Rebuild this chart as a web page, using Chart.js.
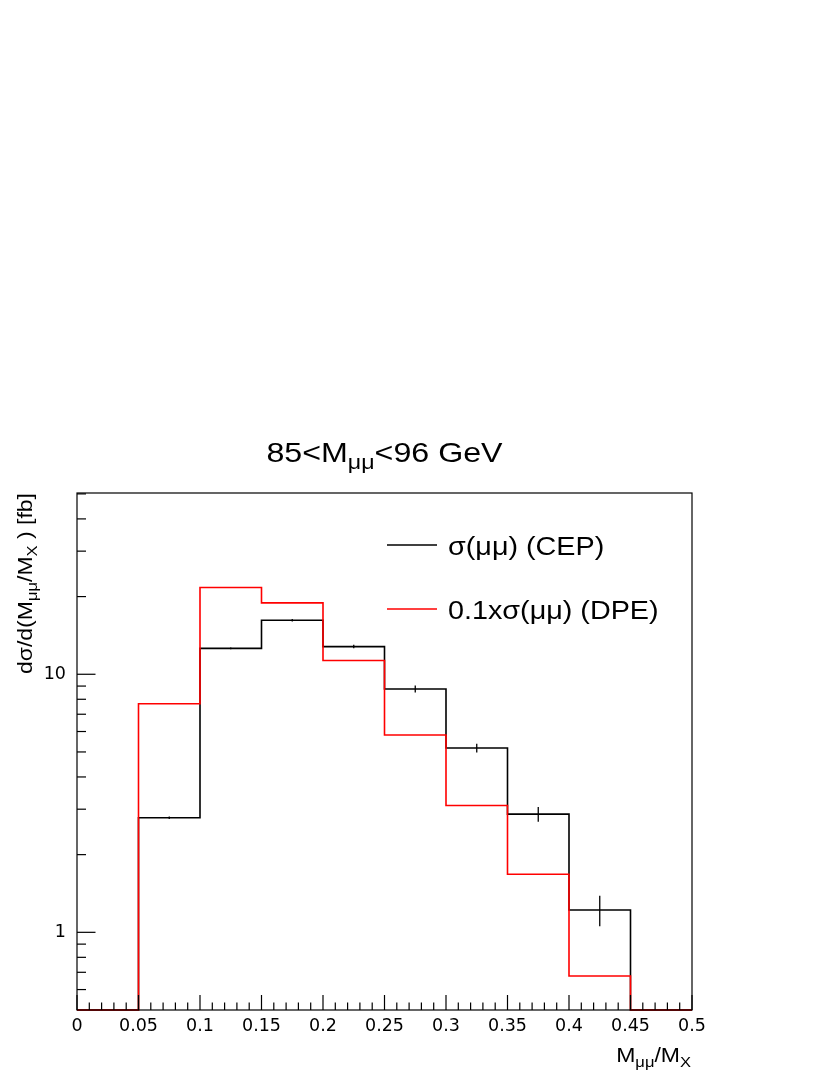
<!DOCTYPE html>
<html>
<head>
<meta charset="utf-8">
<script src="https://cdn.jsdelivr.net/npm/chart.js@4.4.1/dist/chart.umd.min.js"></script>
<style>
  html, body { margin: 0; padding: 0; background: #fff; }
  canvas { display: block; }
</style>
</head>
<body>
<canvas id="histChart" width="830" height="1075"></canvas>
<script>
// bins of M_mumu / M_X
const binEdges = [0, 0.05, 0.1, 0.15, 0.2, 0.25, 0.3, 0.35, 0.4, 0.45, 0.5];
const cepValues = [0, 2.78, 12.6, 16.2, 12.8, 8.77, 5.18, 2.87, 1.22, 0];
const cepErrors = [0, 0.03, 0.1, 0.17, 0.2, 0.28, 0.2, 0.19, 0.165, 0];
const dpeValues = [0, 7.69, 21.7, 18.9, 11.3, 5.82, 3.10, 1.68, 0.677, 0];

const xTickLabels = ['0', '0.05', '0.1', '0.15', '0.2', '0.25', '0.3', '0.35', '0.4', '0.45', '0.5'];
const yMajorTicks = [1, 10];
const yMinorTicks = [0.6, 0.7, 0.8, 0.9, 2, 3, 4, 5, 6, 7, 8, 9, 20, 30, 40, 50];
const yMin = 0.5;
const yMax = 50.4;

const FONT = '"Liberation Sans", Arial, Helvetica, sans-serif';
const TICK_FONT = '"DejaVu Sans", sans-serif';
const STRETCH = 1.15; // reference glyphs are a bit wider than Liberation Sans

// histogram outline: one point per left bin edge + closing right edge
function stepPoints(vals) {
  const pts = vals.map((v, i) => ({ x: binEdges[i], y: Math.max(v, yMin) }));
  pts.push({ x: binEdges[binEdges.length - 1], y: Math.max(vals[vals.length - 1], yMin) });
  return pts;
}

// text with subscripts, parts = [[text, isSub], ...]
function drawRich(ctx, parts, x, y, size, align) {
  const sub = size * 0.72;
  let w = 0;
  parts.forEach(([t, s]) => {
    ctx.font = (s ? sub : size) + 'px ' + FONT;
    w += ctx.measureText(t).width;
  });
  w *= STRETCH;
  const x0 = align === 'right' ? x - w : align === 'center' ? x - w / 2 : x;
  ctx.save();
  ctx.translate(x0, y);
  ctx.scale(STRETCH, 1);
  ctx.textAlign = 'left';
  ctx.textBaseline = 'alphabetic';
  let cx = 0;
  parts.forEach(([t, s]) => {
    ctx.font = (s ? sub : size) + 'px ' + FONT;
    ctx.fillText(t, cx, s ? size * 0.24 : 0);
    cx += ctx.measureText(t).width;
  });
  ctx.restore();
}

const rootStyle = {
  id: 'rootStyle',
  afterDatasetsDraw(chart) {
    const { ctx, chartArea: a, scales: { x, y } } = chart;
    ctx.save();
    ctx.strokeStyle = '#000';

    // error bars on CEP
    ctx.lineWidth = 1.3;
    cepValues.forEach((v, i) => {
      if (v <= 0) return;
      const px = x.getPixelForValue((binEdges[i] + binEdges[i + 1]) / 2);
      ctx.beginPath();
      ctx.moveTo(px, y.getPixelForValue(v - cepErrors[i]));
      ctx.lineTo(px, y.getPixelForValue(v + cepErrors[i]));
      ctx.stroke();
    });

    // frame
    ctx.lineWidth = 1.2;
    ctx.strokeRect(a.left, a.top, a.right - a.left, a.bottom - a.top);

    // x ticks (inside, from bottom)
    const xMajLen = 15, xMinLen = 7.5;
    for (let k = 0; k <= 50; k++) {
      const px = x.getPixelForValue(k / 100);
      const len = k % 5 === 0 ? xMajLen : xMinLen;
      ctx.beginPath();
      ctx.moveTo(px, a.bottom);
      ctx.lineTo(px, a.bottom - len);
      ctx.stroke();
    }

    // y ticks (inside, from left)
    yMajorTicks.forEach(v => {
      const py = y.getPixelForValue(v);
      ctx.beginPath();
      ctx.moveTo(a.left, py);
      ctx.lineTo(a.left + 18.5, py);
      ctx.stroke();
    });
    yMinorTicks.forEach(v => {
      const py = y.getPixelForValue(v);
      ctx.beginPath();
      ctx.moveTo(a.left, py);
      ctx.lineTo(a.left + 9, py);
      ctx.stroke();
    });
    ctx.restore();
  },
  afterDraw(chart) {
    const { ctx, chartArea: a } = chart;
    ctx.save();
    ctx.fillStyle = '#000';

    // title
    drawRich(ctx, [['85<M', 0], ['\u03bc\u03bc', 1], ['<96 GeV', 0]],
      (a.left + a.right) / 2, 462, 28, 'center');

    // x title
    drawRich(ctx, [['M', 0], ['\u03bc\u03bc', 1], ['/M', 0], ['X', 1]],
      a.right - 1, 1062, 20, 'right');

    // y title
    ctx.save();
    ctx.translate(32, a.top);
    ctx.rotate(-Math.PI / 2);
    drawRich(ctx, [['d\u03c3/d(M', 0], ['\u03bc\u03bc', 1], ['/M', 0], ['X', 1], [' ) [fb]', 0]],
      0, 0, 20, 'right');
    ctx.restore();

    // legend
    const entries = [
      { color: '#000', y: 545, parts: [['\u03c3(\u03bc\u03bc) (CEP)', 0]] },
      { color: '#ff0000', y: 609, parts: [['0.1x\u03c3(\u03bc\u03bc) (DPE)', 0]] }
    ];
    entries.forEach(e => {
      ctx.strokeStyle = e.color;
      ctx.lineWidth = 1.5;
      ctx.beginPath();
      ctx.moveTo(387, e.y);
      ctx.lineTo(437, e.y);
      ctx.stroke();
      drawRich(ctx, e.parts, 448, e.y + 9.5, 25, 'left');
    });
    ctx.restore();
  }
};

const ctx = document.getElementById('histChart').getContext('2d');
const myChart = new Chart(ctx, {
  type: 'line',
  data: {
    datasets: [
      {
        label: '0.1xσ(μμ) (DPE)',
        data: stepPoints(dpeValues),
        borderColor: '#ff0000',
        order: 0
      },
      {
        label: 'σ(μμ) (CEP)',
        data: stepPoints(cepValues),
        borderColor: '#000000',
        order: 1
      }
    ]
  },
  options: {
    responsive: false,
    animation: false,
    devicePixelRatio: 1,
    layout: { padding: { left: 0, top: 493, right: 138, bottom: 0 } },
    elements: {
      line: { stepped: true, borderWidth: 1.6, fill: false, tension: 0 },
      point: { radius: 0, hoverRadius: 0 }
    },
    datasets: { line: { clip: false } },
    plugins: {
      legend: { display: false },
      title: { display: false },
      tooltip: { enabled: false }
    },
    scales: {
      x: {
        type: 'linear',
        min: 0,
        max: 0.5,
        afterBuildTicks: s => { s.ticks = binEdges.map(v => ({ value: v })); },
        afterFit: s => { s.height = 65; },
        grid: { display: false, drawTicks: false },
        border: { display: false },
        ticks: {
          callback: (v, i) => xTickLabels[i],
          autoSkip: false,
          maxRotation: 0,
          padding: 6,
          color: '#000',
          font: { family: TICK_FONT, size: 17.5 }
        }
      },
      y: {
        type: 'logarithmic',
        min: yMin,
        max: yMax,
        afterBuildTicks: s => { s.ticks = yMajorTicks.map(v => ({ value: v })); },
        afterFit: s => { s.width = 77; },
        grid: { display: false, drawTicks: false },
        border: { display: false },
        ticks: {
          callback: v => String(v),
          autoSkip: false,
          padding: 11,
          color: '#000',
          font: { family: TICK_FONT, size: 17.5 }
        }
      }
    }
  },
  plugins: [rootStyle]
});
</script>
</body>
</html>
